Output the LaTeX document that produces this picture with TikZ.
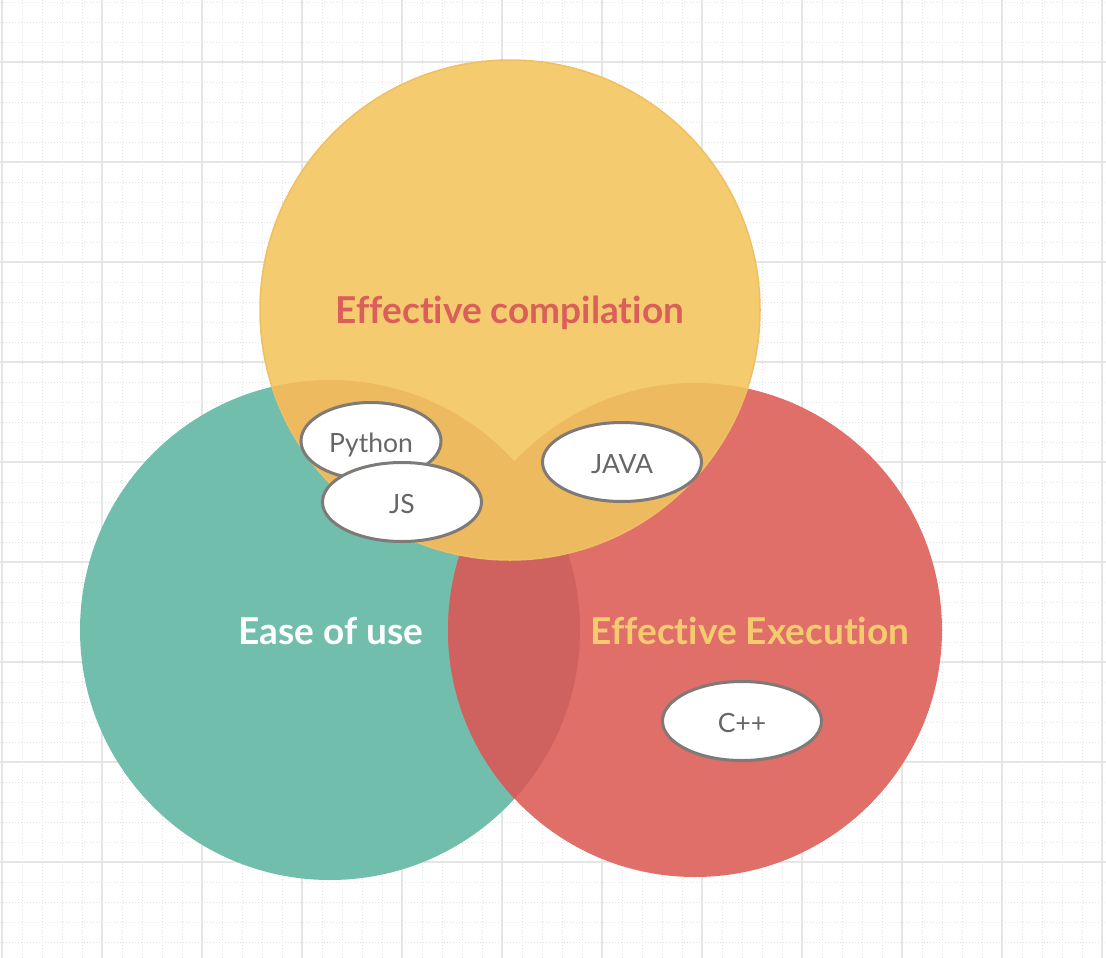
\documentclass[tikz,border=0pt]{standalone}
\usepackage{fontspec}
\setmainfont[Ligatures=NoCommon]{Lato}
\usetikzlibrary{shapes.geometric,positioning}

\definecolor{compyellow}{HTML}{F5CB6F}
\definecolor{yellowdark}{HTML}{EDBA5F}
\definecolor{yellowedge}{HTML}{EFBF62}
\definecolor{easegreen}{HTML}{72BEAD}
\definecolor{execred}{HTML}{E06E69}
\definecolor{reddark}{HTML}{CF625E}
\definecolor{comptext}{HTML}{DA5F5B}
\definecolor{langgray}{HTML}{7E7A77}
\definecolor{langtext}{HTML}{666666}

\tikzset{
  minorline/.style = {black!11, line width=0.8pt, dash pattern=on 1pt off 2pt},
  majorline/.style = {black!10, line width=2pt},
  biglabel/.style = {anchor=base, font=\fontsize{37}{44}\selectfont\bfseries},
  lang/.style = {draw=langgray, line width=3pt, fill=white, ellipse, inner sep=0pt,
                 text=langtext, font=\fontsize{26.5}{30}\selectfont,
                 text height=23pt, text depth=0pt,
                 minimum width=159pt, minimum height=79pt}
}

\begin{document}
\begin{tikzpicture}[x=1pt, y=-1pt]
  \useasboundingbox (0,0) rectangle (1106,958);
  % grid
  \foreach \x in {2,22,...,1102}{
    \draw[minorline] (\x,0) -- (\x,958);
  }
  \foreach \y in {2,22,...,942}{
    \draw[minorline] (0,\y) -- (1106,\y);
  }
  \foreach \x in {2,102,...,1102}{
    \draw[majorline] (\x,0) -- (\x,958);
  }
  \foreach \y in {62,162,...,962}{
    \draw[majorline] (0,\y) -- (1106,\y);
  }

  % circles
  \fill[easegreen] (330,630) circle[radius=250];
  \fill[execred] (695,630) circle[radius=247];
  \begin{scope}
    \clip (330,630) circle[radius=250];
    \fill[reddark] (695,630) circle[radius=247];
  \end{scope}
  \fill[compyellow] (510,310) circle[radius=250];
  \begin{scope}
    \clip (510,310) circle[radius=250];
    \fill[yellowdark] (330,630) circle[radius=250] (695,630) circle[radius=247];
  \end{scope}
  \draw[yellowedge, line width=1.5pt] (510,310) circle[radius=250];

  % labels
  \node[biglabel, text=comptext] (comp) at (510,323) {Effective compilation};
  \node[biglabel, text=white] (ease) at (331,644) {Ease of use};
  \node[biglabel, text=compyellow] (exec) at (750,644) {Effective Execution};

  % languages
  \node[lang, minimum width=140pt, minimum height=77pt] (python) at (371,441) {Python};
  \node[lang] (js) at (402,502) {JS};
  \node[lang] (java) at (622,462) {JAVA};
  \node[lang] (cpp) at (742,721) {C++};
\end{tikzpicture}
\end{document}
